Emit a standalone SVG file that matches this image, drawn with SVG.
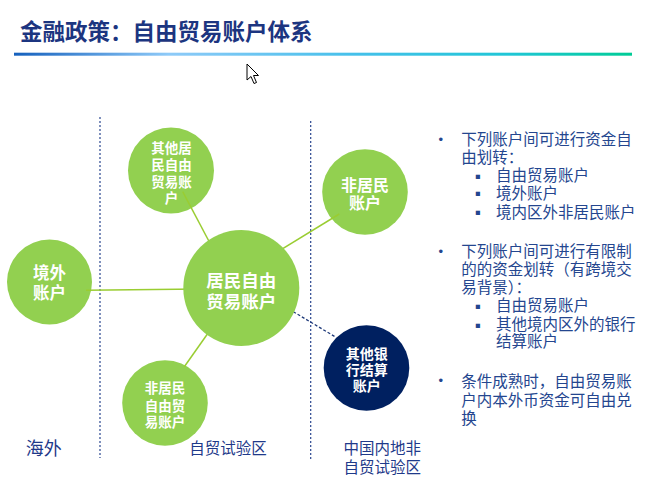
<svg xmlns="http://www.w3.org/2000/svg" width="664" height="502" viewBox="0 0 664 502">
<defs>
<linearGradient id="rule" x1="0" y1="0" x2="1" y2="0">
<stop offset="0" stop-color="#1560bd"/>
<stop offset="0.25" stop-color="#8ecaf8"/>
<stop offset="0.55" stop-color="#45c0ea"/>
<stop offset="0.8" stop-color="#20c6d6"/>
<stop offset="1" stop-color="#00cc96"/>
</linearGradient>
<style>
text{font-family:"Noto Sans CJK SC","Liberation Sans",sans-serif}
.title{font-size:22.5px;font-weight:bold;fill:#1c3580}
.node{fill:#92d050}
.dark{fill:#002060}
.nl{fill:#fff;font-weight:bold;text-anchor:middle}
.link{stroke:#9acd32;stroke-width:1.5;fill:none}
.dash{stroke:#1f3a7a;stroke-width:1.3;stroke-dasharray:3 2;fill:none}
.div{stroke:#2a4690;stroke-width:1.2;stroke-dasharray:2 2;fill:none}
.lbl{fill:#1f3a8a}
.rt{font-size:15.5px;fill:#24468f}
.b{font-family:"Liberation Sans",sans-serif;font-size:13px;fill:#24468f}
.sb{font-family:"DejaVu Sans",sans-serif;font-size:8.5px;fill:#24468f}
</style>
</defs>
<rect width="664" height="502" fill="#fff"/>
<text class="title" x="20" y="40">金融政策：自由贸易账户体系</text>
<rect x="14" y="52.7" width="618" height="3" fill="url(#rule)"/>
<path d="M247,64 L247,80 L251,76.5 L254,83.5 L256.5,82.5 L253.5,75.5 L258.5,75.5 Z" fill="#fff" stroke="#000" stroke-width="1"/>

<g id="dividers">
<line class="div" x1="100" y1="117" x2="100" y2="458"/>
<line class="div" x1="310.7" y1="121" x2="310.7" y2="461"/>
</g>

<g id="node-jingwai">
<circle class="node" cx="49.5" cy="282" r="42.5"/>
<text class="nl" font-size="16.5" x="49.5" y="279">境外</text>
<text class="nl" font-size="16.5" x="49.5" y="299">账户</text>
</g>
<g id="node-other-resident">
<circle class="node" cx="171" cy="170.5" r="43"/>
<text class="nl" font-size="13.5" x="171.5" y="152.8">其他居</text>
<text class="nl" font-size="13.5" x="171.5" y="169.5">民自由</text>
<text class="nl" font-size="13.5" x="171.5" y="186.7">贸易账</text>
<text class="nl" font-size="13.5" x="171.5" y="203.2">户</text>
</g>
<g id="node-nonresident">
<circle class="node" cx="365" cy="192" r="42.8"/>
<text class="nl" font-size="16" x="365" y="191">非居民</text>
<text class="nl" font-size="16" x="365" y="209.3">账户</text>
</g>
<g id="node-nonresident-ft">
<circle class="node" cx="165" cy="403" r="42.8"/>
<text class="nl" font-size="13.5" x="165" y="393.3">非居民</text>
<text class="nl" font-size="13.5" x="165" y="410.7">自由贸</text>
<text class="nl" font-size="13.5" x="165" y="426.7">易账户</text>
</g>

<g id="connectors">
<line class="link" x1="86" y1="290.3" x2="200" y2="289"/>
<line class="link" x1="182.7" y1="191.7" x2="212" y2="247"/>
<line class="link" x1="275" y1="253.4" x2="339.3" y2="214"/>
<line class="link" x1="212" y1="327.5" x2="184.3" y2="366.7"/>
<line class="dash" x1="293.3" y1="311.7" x2="336" y2="337.3"/>
</g>

<g id="node-resident-ft">
<circle class="node" cx="241.3" cy="288" r="58"/>
<text class="nl" font-size="17.5" x="241.3" y="286.5">居民自由</text>
<text class="nl" font-size="17.5" x="241.3" y="307.5">贸易账户</text>
</g>
<g id="node-other-bank">
<circle class="dark" cx="366.5" cy="368" r="42.8"/>
<text class="nl" font-size="14" x="366.7" y="358.5">其他银</text>
<text class="nl" font-size="14" x="366.7" y="375.2">行结算</text>
<text class="nl" font-size="14" x="366.7" y="391.2">账户</text>
</g>

<g id="zone-labels">
<text class="lbl" font-size="18" x="43.8" y="454.5" text-anchor="middle">海外</text>
<text class="lbl" font-size="15.5" x="228" y="453.8" text-anchor="middle">自贸试验区</text>
<text class="lbl" font-size="15.5" x="343.5" y="453.5">中国内地非</text>
<text class="lbl" font-size="15.5" x="343.5" y="472.5">自贸试验区</text>
</g>

<g id="notes">
<text class="b" x="438.5" y="143.8">•</text>
<text class="rt" x="461.3" y="145.3">下列账户间可进行资金自</text>
<text class="rt" x="461.3" y="163.3">由划转：</text>
<text class="sb" x="475" y="178.5">▪</text>
<text class="rt" x="496" y="181">自由贸易账户</text>
<text class="sb" x="475" y="196.2">▪</text>
<text class="rt" x="496" y="198.7">境外账户</text>
<text class="sb" x="475" y="215.2">▪</text>
<text class="rt" x="496" y="217.7">境内区外非居民账户</text>

<text class="b" x="438.5" y="255.5">•</text>
<text class="rt" x="461.3" y="257">下列账户间可进行有限制</text>
<text class="rt" x="461.3" y="275">的的资金划转（有跨境交</text>
<text class="rt" x="461.3" y="292.7">易背景）：</text>
<text class="sb" x="475" y="308.5">▪</text>
<text class="rt" x="496" y="311">自由贸易账户</text>
<text class="sb" x="475" y="327.5">▪</text>
<text class="rt" x="496" y="330">其他境内区外的银行</text>
<text class="rt" x="496" y="347.3">结算账户</text>

<text class="b" x="438.5" y="385.2">•</text>
<text class="rt" x="461.3" y="386.7">条件成熟时，自由贸易账</text>
<text class="rt" x="461.3" y="406">户内本外币资金可自由兑</text>
<text class="rt" x="461.3" y="423.7">换</text>
</g>
</svg>
